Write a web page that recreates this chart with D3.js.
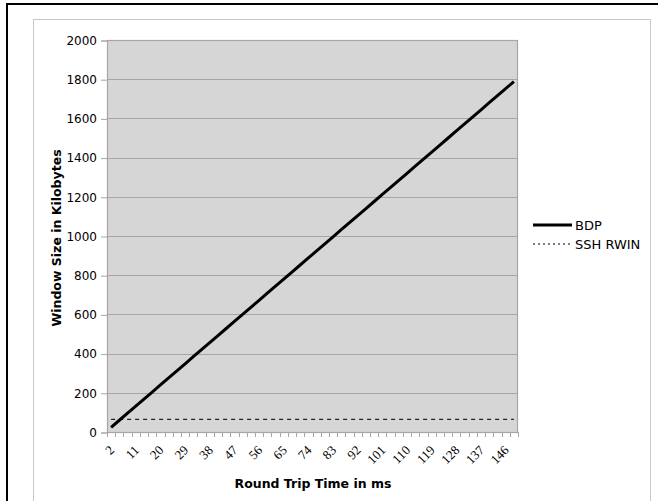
<!DOCTYPE html>
<html><head><meta charset="utf-8">
<script src="https://cdn.jsdelivr.net/npm/d3@7"></script>
<style>html,body{margin:0;padding:0;background:#fff;}svg{display:block;}</style>
</head><body>
<svg id="chart" width="658" height="501"></svg>
<script>
const rtt = [2,5,8,11,14,17,20,23,26,29,32,35,38,41,44,47,50,53,56,59,62,65,68,71,74,77,80,83,86,89,92,95,98,101,104,107,110,113,116,119,122,125,128,131,134,137,140,143,146,149];
const bdp = [24,60,96,132,168,204,240,276,312,348,384,420,456,492,528,564,600,636,672,708,744,780,816,852,888,924,960,996,1032,1068,1104,1140,1176,1212,1248,1284,1320,1356,1392,1428,1464,1500,1536,1572,1608,1644,1680,1716,1752,1788];
const sshRwin = [64,64,64,64,64,64,64,64,64,64,64,64,64,64,64,64,64,64,64,64,64,64,64,64,64,64,64,64,64,64,64,64,64,64,64,64,64,64,64,64,64,64,64,64,64,64,64,64,64,64];
const xTickLabels = [2,11,20,29,38,47,56,65,74,83,92,101,110,119,128,137,146];
const yTicks = [0,200,400,600,800,1000,1200,1400,1600,1800,2000];
const seriesNames = ["BDP","SSH RWIN"];

const svg = d3.select("#chart");
// outer frames
svg.append("rect").attr("x",7).attr("y",4).attr("width",700).attr("height",600)
  .attr("fill","none").attr("stroke","#000").attr("stroke-width",2);
svg.append("rect").attr("x",33.5).attr("y",19.5).attr("width",617).attr("height",600)
  .attr("fill","none").attr("stroke","#c8c8c8").attr("stroke-width",1);

const L=107, R=518, T=40, B=432;
const x = d3.scaleBand().domain(rtt).range([L,R]);
const y = d3.scaleLinear().domain([0,2000]).range([B,T]);

svg.append("rect").attr("x",L).attr("y",T).attr("width",R-L).attr("height",B-T).attr("fill","#d6d6d6");
// gridlines
svg.append("g").selectAll("line").data(yTicks.filter(d=>d>0)).join("line")
  .attr("x1",L).attr("x2",R).attr("y1",d=>Math.round(y(d))+0.5).attr("y2",d=>Math.round(y(d))+0.5)
  .attr("stroke","#a6a6a6").attr("stroke-width",1);
svg.append("rect").attr("x",L+0.5).attr("y",T+0.5).attr("width",R-L-1).attr("height",B-T)
  .attr("fill","none").attr("stroke","#a6a6a6").attr("stroke-width",1.2);

// y axis
const yAxis = d3.axisLeft(y).tickValues(yTicks).tickSize(6).tickPadding(4).tickFormat(d3.format("d"));
const gy = svg.append("g").attr("transform",`translate(${L},0.5)`).call(yAxis);
gy.select(".domain").attr("stroke","#a6a6a6");
gy.selectAll(".tick line").attr("stroke","#a6a6a6");
gy.selectAll("text").attr("font-family","DejaVu Sans").attr("font-size",12).attr("fill","#000");

// x axis
const boundaries = rtt.map(d=>x(d)).concat([R]);
svg.append("line").attr("x1",L).attr("x2",R).attr("y1",B+0.5).attr("y2",B+0.5).attr("stroke","#a6a6a6");
svg.append("g").selectAll("line").data(boundaries).join("line")
  .attr("x1",d=>Math.round(d)+0.5).attr("x2",d=>Math.round(d)+0.5).attr("y1",B).attr("y2",B+5)
  .attr("stroke","#a6a6a6");
svg.append("g").selectAll("text").data(xTickLabels).join("text")
  .attr("transform",d=>`translate(${x(d)+x.bandwidth()/2+4},${B+19}) rotate(-45)`)
  .attr("text-anchor","end").attr("font-family","Liberation Serif").attr("font-size",13)
  .attr("fill","#000").text(d=>d);

// lines
const line = d3.line().x((d,i)=>x(rtt[i])+x.bandwidth()/2).y(d=>y(d));
svg.append("path").datum(sshRwin).attr("d",line).attr("fill","none")
  .attr("stroke","#222").attr("stroke-width",1.3).attr("stroke-dasharray","4,4");
svg.append("path").datum(bdp).attr("d",line).attr("fill","none")
  .attr("stroke","#000").attr("stroke-width",3);

// titles
svg.append("text").attr("x",313).attr("y",488).attr("text-anchor","middle")
  .attr("font-family","DejaVu Sans").attr("font-weight","bold").attr("font-size",12.5).text("Round Trip Time in ms");
svg.append("text").attr("transform","translate(61,238) rotate(-90)").attr("text-anchor","middle")
  .attr("font-family","DejaVu Sans").attr("font-weight","bold").attr("font-size",12.5).text("Window Size in Kilobytes");

// legend
const lg = svg.append("g");
seriesNames.forEach((n,i)=>{
  const yy = 225 + i*19;
  lg.append("line").attr("x1",533).attr("x2",572).attr("y1",yy).attr("y2",yy)
    .attr("stroke","#000").attr("stroke-width", i===0?3:1).attr("stroke-dasharray", i===0?null:"2,3");
  lg.append("text").attr("x",575).attr("y",yy+5).attr("font-family","DejaVu Sans").attr("font-size",13).text(n);
});
</script>
</body></html>
